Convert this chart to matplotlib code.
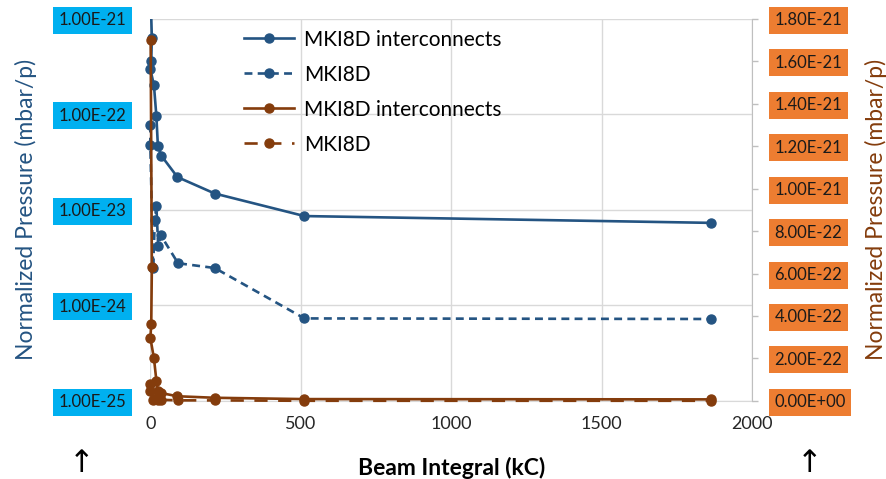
import matplotlib
matplotlib.use("Agg")
import matplotlib.pyplot as plt
from matplotlib.ticker import NullLocator
from matplotlib.transforms import Bbox, TransformedBbox

plt.rcParams['font.family'] = ['Lato', 'DejaVu Sans']

# ---- data ----
inter_x = [1, 5, 3, 0, 12, 20, 25, 36, 90, 214, 512, 1862]
inter_y = [1.70e-21, 6.3e-22, 3.6e-22, 2.97e-22, 2.0e-22, 9.6e-23, 4.7e-23,
           3.7e-23, 2.2e-23, 1.48e-23, 8.6e-24, 7.3e-24]
mki_x = [0, 0, 9, 15, 20, 26, 35, 92, 214, 512, 1862]
mki_y = [7.8e-23, 4.8e-23, 2.46e-24, 7.8e-24, 1.1e-23, 4.2e-24, 5.4e-24,
         2.76e-24, 2.46e-24, 7.3e-25, 7.2e-25]

left_ticks = [1e-25, 1e-24, 1e-23, 1e-22, 1e-21]
left_labels = ["1.00E-25", "1.00E-24", "1.00E-23", "1.00E-22", "1.00E-21"]
right_ticks = [i * 2e-22 for i in range(10)]
right_labels = ["{:.2E}".format(v) for v in right_ticks]
x_ticks = [0, 500, 1000, 1500, 2000]
x_labels = ["0", "500", "1000", "1500", "2000"]

label_inter = "MKI8D interconnects"
label_mki = "MKI8D"
ylabel = "Normalized Pressure (mbar/p)"
xlabel = "Beam Integral (kC)"

BLUE = "#245482"
BROWN = "#843C0C"
CYAN = "#00B0F0"
ORANGE = "#ED7D31"
GRID = "#D9D9D9"

fig = plt.figure(figsize=(8.87, 4.79), dpi=100)
fig.subplots_adjust(left=0.1695, right=0.848, top=0.961, bottom=0.163)
ax = fig.add_subplot(111)
ax2 = ax.twinx()

ax.set_xlim(0, 2000)
ax.set_yscale('log')
ax.set_ylim(1e-25, 1e-21)
ax.yaxis.set_minor_locator(NullLocator())
ax.set_yticks(left_ticks, labels=left_labels)
ax.set_xticks(x_ticks, labels=x_labels)
ax.grid(True, which='major', color=GRID, linewidth=1.0)
ax.set_axisbelow(True)

ax2.set_ylim(0, 1.8e-21)
ax2.set_yticks(right_ticks, labels=right_labels)

for a in (ax, ax2):
    for s in ('top', 'left', 'right', 'bottom'):
        a.spines[s].set_visible(False)
ax2.spines['right'].set_visible(True)
ax2.spines['right'].set_color('#BFBFBF')
ax.spines['bottom'].set_visible(True)
ax.spines['bottom'].set_color(GRID)

ax.tick_params(axis='y', length=0, pad=17, labelsize=12, labelcolor='#1a1a1a')
ax.tick_params(axis='x', length=0, pad=11, labelsize=13, labelcolor='#262626')
ax2.tick_params(axis='y', length=4, width=1, color='#BFBFBF', pad=12,
                labelsize=12, labelcolor='#1a1a1a')

for lbl in ax.get_yticklabels():
    lbl.set_bbox(dict(facecolor=CYAN, edgecolor='none', pad=4))
for lbl in ax2.get_yticklabels():
    lbl.set_bbox(dict(facecolor=ORANGE, edgecolor='none', pad=4))

ms = 6.5
lw = 1.9
l1, = ax.plot(inter_x, inter_y, '-', color=BLUE, lw=lw, marker='o', ms=ms,
              label=label_inter)
l2, = ax.plot(mki_x, mki_y, color=BLUE, lw=lw, ls=(0, (3, 2)), marker='o', ms=ms,
              label=label_mki)
l3, = ax2.plot(inter_x, inter_y, '-', color=BROWN, lw=lw, marker='o', ms=ms,
               label=label_inter)
l4, = ax2.plot(mki_x, mki_y, color=BROWN, lw=lw, ls=(0, (5, 4)), marker='o', ms=ms,
               label=label_mki)

box1 = TransformedBbox(Bbox([[-0.03, -0.04], [1.03, 1.0]]), ax.transAxes)
box2 = TransformedBbox(Bbox([[-0.03, -0.04], [1.03, 1.02]]), ax2.transAxes)
for ln in (l1, l2):
    ln.set_clip_box(box1)
for ln in (l3, l4):
    ln.set_clip_box(box2)

ax.set_ylabel(ylabel, color=BLUE, fontsize=16.5, labelpad=16)
ax2.set_ylabel(ylabel, color=BROWN, fontsize=16.5, rotation=90, labelpad=14)
ax.set_xlabel(xlabel, fontsize=16.5, fontweight='bold', labelpad=18)

leg = ax2.legend(handles=[l1, l2, l3, l4], loc='upper left',
                 bbox_to_anchor=(0.125, 1.02), frameon=False, fontsize=15,
                 handlelength=2.4, handletextpad=0.45, labelspacing=0.72)

fig.text(82 / 887, 1 - 463 / 479, "\u2191", fontsize=22, ha='center', va='center',
         family='DejaVu Sans', color='black')
fig.text(810 / 887, 1 - 463 / 479, "\u2191", fontsize=22, ha='center', va='center',
         family='DejaVu Sans', color='black')

fig.savefig("out.png", dpi=100)
